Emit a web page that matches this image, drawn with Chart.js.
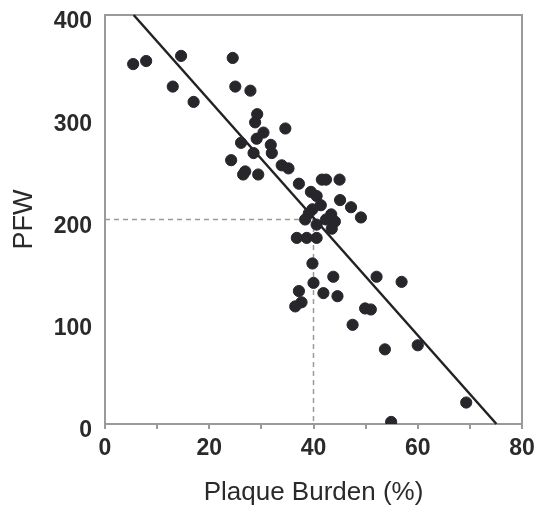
<!DOCTYPE html>
<html>
<head>
<meta charset="utf-8">
<script src="https://cdn.jsdelivr.net/npm/chart.js@4"></script>
<style>
  body { margin: 0; background: #fff; }
</style>
</head>
<body>
<canvas id="pfwChart" width="548" height="506"></canvas>
<script>
// plaque burden (%) and PFW per patient
var burden = [5.4, 7.9, 14.6, 13.0, 17.0, 24.5, 25.0, 27.9, 29.2, 28.8,
  34.6, 30.4, 29.1, 26.1, 31.8, 32.0, 28.5, 24.2, 33.9, 35.2,
  26.9, 26.5, 29.4, 37.2, 41.6, 42.4, 45.0, 39.5, 40.6, 41.4,
  45.1, 47.2, 49.1, 39.8, 39.1, 38.4, 43.4, 44.1, 42.4, 43.5,
  40.6, 36.8, 38.7, 40.6, 39.8, 43.8, 40.0, 37.2, 41.9, 44.6,
  37.7, 36.5, 52.1, 49.9, 51.0, 47.5, 53.7, 56.9, 60.0, 69.3, 54.9];
var pfw = [352, 355, 360, 330, 315, 358, 330, 326, 303, 295,
  289, 285, 279, 275, 273, 265, 265, 258, 253, 250,
  247, 244, 244, 235, 239, 239, 239, 227, 223, 214,
  219, 212, 202, 210, 206, 200, 205, 198, 200, 191,
  195, 182, 182, 182, 157, 144, 138, 130, 128, 125,
  119, 115, 144, 113, 112, 97, 73, 139, 77, 21, 2];

// regression line end points
var fitX = [5.5, 75.1];
var fitY = [400, 0];

// dashed guide at burden 40 / PFW 200
var refX = [0, 40, 40];
var refY = [200, 200, 0];

var xTicks = [0, 20, 40, 60, 80];
var yTicks = [0, 100, 200, 300, 400];

function pts(xs, ys) {
    return xs.map(function (x, i) { return { x: x, y: ys[i] }; });
}

// keep the plot box exactly where the reference has it
function noPad(s) {
    s.paddingTop = 0; s.paddingBottom = 0;
    s.paddingLeft = 0; s.paddingRight = 0;
}

var frameColor = '#9a9a9a';
var fam = 'Liberation Sans, Arial, sans-serif';
var tickFont = { family: fam, size: 23, weight: 'bold' };

var ctx = document.getElementById('pfwChart').getContext('2d');
new Chart(ctx, {
    type: 'scatter',
    data: {
        datasets: [{
            data: pts(burden, pfw),
            backgroundColor: '#26262b',
            borderColor: '#26262b',
            pointRadius: 5.6,
            order: 1
        }, {
            data: pts(fitX, fitY),
            showLine: true,
            borderColor: '#222',
            borderWidth: 2.5,
            pointRadius: 0,
            clip: false,
            order: 2
        }, {
            data: pts(refX, refY),
            showLine: true,
            borderColor: '#9a9a9a',
            borderWidth: 1.5,
            borderDash: [5, 4],
            pointRadius: 0,
            order: 3
        }]
    },
    options: {
        responsive: false,
        animation: false,
        layout: { padding: { top: 15, right: 26, left: 0, bottom: 0 } },
        plugins: {
            legend: { display: false },
            tooltip: { enabled: false }
        },
        scales: {
            x: {
                type: 'linear',
                min: 0,
                max: 80,
                afterFit: function (s) { s.height = 82; noPad(s); },
                border: { color: frameColor, width: 2 },
                grid: {
                    drawOnChartArea: false,
                    drawTicks: true,
                    tickLength: 5,
                    color: frameColor,
                    lineWidth: 2
                },
                ticks: {
                    stepSize: 10,
                    autoSkip: false,
                    maxRotation: 0,
                    padding: 6,
                    color: '#2a2a2a',
                    font: tickFont,
                    callback: function (v) { return xTicks.indexOf(v) >= 0 ? String(v) : ''; }
                },
                title: {
                    display: true,
                    text: 'Plaque Burden (%)',
                    color: '#2a2a2a',
                    font: { family: fam, size: 26, lineHeight: 1 },
                    padding: { top: 0, bottom: 0 }
                }
            },
            y: {
                min: 0,
                max: 400,
                afterFit: function (s) { s.width = 105; noPad(s); },
                border: { color: frameColor, width: 2 },
                grid: { drawOnChartArea: false, drawTicks: false },
                ticks: {
                    stepSize: 100,
                    padding: 13,
                    labelOffset: 7,
                    color: '#2a2a2a',
                    font: tickFont,
                    callback: function (v) { return yTicks.indexOf(v) >= 0 ? String(v) : ''; }
                },
                title: {
                    display: true,
                    text: 'PFW',
                    color: '#2a2a2a',
                    font: { family: fam, size: 27, lineHeight: 1 },
                    padding: { top: 11, bottom: 0 }
                }
            },
            xTop: {
                type: 'linear',
                position: 'top',
                min: 0,
                max: 80,
                afterFit: function (s) { s.height = 0; noPad(s); },
                border: { color: frameColor, width: 2 },
                grid: { drawOnChartArea: false, drawTicks: false },
                ticks: { display: false }
            },
            yRight: {
                type: 'linear',
                position: 'right',
                min: 0,
                max: 400,
                afterFit: function (s) { s.width = 0; noPad(s); },
                border: { color: frameColor, width: 2 },
                grid: { drawOnChartArea: false, drawTicks: false },
                ticks: { display: false }
            }
        }
    }
});
</script>
</body>
</html>
